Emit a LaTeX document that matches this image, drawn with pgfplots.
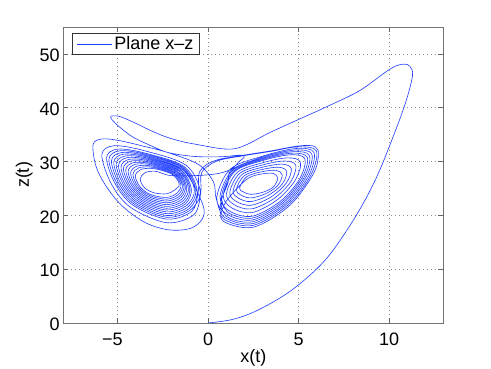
\documentclass[border=0pt]{standalone}
\usepackage{fontspec}
\setmainfont{Liberation Sans}
\usepackage{pgfplots}
\pgfplotsset{compat=1.18}
\newcommand\myfont{\fontsize{18bp}{21bp}\selectfont}
\definecolor{mblue}{RGB}{30,60,255}
\begin{document}
\begin{tikzpicture}
\useasboundingbox (-63.3bp,-46bp) rectangle (427.7bp,323bp);
\begin{axis}[
  scale only axis, width=380bp, height=296bp,
  xmin=-8, xmax=13, ymin=0, ymax=55,
  xtick={-5,0,5,10}, xticklabels={\llap{−}5,0,5,10},
  ytick={0,10,20,30,40,50},
  /pgf/number format/assume math mode=true,
  tick align=inside, tick pos=both, major tick length=5bp,
  tick style={black!60, line width=0.6bp},
  axis line style={black!55, line width=0.8bp},
  grid=major,
  major grid style={black!45, line width=0.5bp, dash pattern=on 1bp off 3bp},
  tick label style={font=\myfont},
  label style={font=\myfont},
  xticklabel style={anchor=base, yshift=-22bp},
  yticklabel style={anchor=east, inner xsep=0bp, xshift=-3.5bp, yshift=-1.5bp},
  xlabel={x(t)}, ylabel={z(t)},
  xlabel style={at={(axis description cs:0.5,-0.1318)}, anchor=base},
  ylabel style={at={(axis description cs:-0.0908,0.5)}, anchor=base},
  legend style={at={(0,1)}, anchor=north west, xshift=9.2bp, yshift=-6.3bp,
    draw=black!80, line width=0.6bp, font=\myfont, inner xsep=4bp, inner ysep=1.3bp},
  legend cell align=left,
  legend image code/.code={\draw[#1] (0bp,0bp) -- (35bp,0bp);},
]
\addplot[mblue, line width=0.6bp, smooth, tension=0.55] coordinates {
(0,0) (1.4,0.7) (2.82,2.5) (4.66,6.2) (6.5,11.8) (8.1,19.5) (9.26,26.7) (10.18,34.2)
(10.92,41) (11.3,46) (11.15,47.7) (10.85,48.1) (10.4,47.8) (9.8,46.6) (8.34,43.1) (6.5,40.1)
(4.66,37.3) (3.3,35.2) (2.3,33.4) (1.5,32.4) (0.7,32.4) (-0.5,33.1) (-1.42,33.7) (-2.34,34.6)
(-3.26,35.9) (-4.18,37.4) (-4.92,38.4) (-5.37,38.4) (-5.29,37.7) (-4.92,36.5) (-4.18,34.6)
(-3.26,33.1) (-2.34,31.8) (-1.42,31.2) (-0.5,30.9) (0.79,30.9) (1.8,31.2) (2.0,30.8)
(1.71,30.0) (1.34,28.7) (0.6,27.8) (-0.6,27.4)
(-2.1,27.4) (-2.9,28.2) (-3.5,27.9) (-3.75,26.7) (-3.5,25.1) (-3.0,24.2) (-2.3,24.0) (-1.85,24.7)
(-1.59,25.8) (-1.99,27.64) (-2.97,28.67) (-3.71,28.53) (-4.02,27.27) (-3.73,25.19) (-3.16,23.86) (-2.3,23.33) (-1.72,24.13)
(-1.5,25.7) (-1.94,27.76) (-3.0,28.9) (-3.82,28.85) (-4.15,27.56) (-3.85,25.24) (-3.24,23.69) (-2.3,23.0) (-1.65,23.85)
(-1.42,25.6) (-1.88,27.88) (-3.04,29.14) (-3.92,29.16) (-4.28,27.84) (-3.96,25.28) (-3.32,23.52) (-2.3,22.66) (-1.58,23.56)
(-1.34,25.5) (-1.83,28.0) (-3.08,29.38) (-4.03,29.48) (-4.42,28.13) (-4.08,25.33) (-3.4,23.35) (-2.3,22.33) (-1.52,23.28)
(-1.26,25.4) (-1.77,28.12) (-3.11,29.61) (-4.13,29.79) (-4.55,28.41) (-4.19,25.37) (-3.48,23.18) (-2.3,21.99) (-1.45,22.99)
(-1.18,25.3) (-1.72,28.24) (-3.15,29.85) (-4.24,30.1) (-4.68,28.7) (-4.31,25.42) (-3.56,23.01) (-2.3,21.66) (-1.38,22.71)
(-1.09,25.2) (-1.66,28.36) (-3.18,30.08) (-4.34,30.42) (-4.81,28.98) (-4.42,25.46) (-3.64,22.84) (-2.3,21.32) (-1.31,22.42)
(-1.01,25.1) (-1.61,28.48) (-3.22,30.32) (-4.45,30.74) (-4.95,29.27) (-4.54,25.51) (-3.72,22.67) (-2.3,20.99) (-1.25,22.14)
(-0.93,25.0) (-1.55,28.6) (-3.25,30.55) (-4.55,31.05) (-5.08,29.55) (-4.65,25.55) (-3.8,22.5) (-2.3,20.65) (-1.18,21.85)
(-0.76,24.8) (-1.44,28.84) (-3.32,31.02) (-4.76,31.68) (-5.34,30.12) (-4.88,25.64) (-3.96,22.16) (-2.3,19.98) (-1.04,21.28)
(-0.6,24.6) (-1.33,29.08) (-3.39,31.49) (-4.97,32.31) (-5.61,30.69) (-5.11,25.73) (-4.12,21.82) (-2.3,19.31) (-0.91,20.71)
(-0.55,24.2) (-0.45,28.2) (0.4,30.2) (2.0,31.2) (3.5,32.0) (5.0,32.9) (5.9,32.8) (6.1,31.2) (5.8,27.6)
(4.5,21.8) (2.5,17.8) (0.8,19.0) (0.9,22.0) (1.6,25.0)
(2.27,27.0) (3.0,27.71) (3.61,27.78) (3.85,26.9) (3.6,25.26) (2.97,24.23) (2.32,23.92) (1.93,24.4)
(1.74,25.08) (2.14,27.2) (3.0,28.12) (3.76,28.36) (4.1,27.5) (3.84,25.52) (3.14,23.96) (2.34,23.24) (1.8,23.8)
(1.56,24.82) (2.01,27.4) (3.0,28.53) (3.92,28.94) (4.35,28.1) (4.09,25.78) (3.31,23.69) (2.36,22.56) (1.68,23.2)
(1.38,24.56) (1.88,27.6) (3.0,28.94) (4.07,29.52) (4.6,28.7) (4.33,26.04) (3.48,23.42) (2.38,21.88) (1.55,22.6)
(1.2,24.3) (1.75,27.8) (3.0,29.35) (4.23,30.1) (4.85,29.3) (4.58,26.3) (3.65,23.15) (2.4,21.2) (1.43,22.0)
(1.02,24.04) (1.62,28.0) (3.0,29.76) (4.38,30.68) (5.1,29.9) (4.82,26.56) (3.82,22.88) (2.42,20.52) (1.3,21.4)
(0.84,23.78) (1.49,28.2) (3.0,30.17) (4.54,31.26) (5.35,30.5) (5.07,26.82) (3.99,22.61) (2.44,19.84) (1.18,20.8)
(0.66,23.52) (1.36,28.4) (3.0,30.58) (4.69,31.84) (5.6,31.1) (5.31,27.08) (4.16,22.34) (2.46,19.16) (1.05,20.2)
(0.48,23.26) (1.23,28.6) (3.0,30.99) (4.85,32.42) (5.85,31.7) (5.56,27.34) (4.33,22.07) (2.48,18.48) (0.93,19.6)
(0.45,23.1) (0.3,26.2) (-0.5,29.4) (-2.15,31.6) (-3.63,32.9) (-4.92,33.9) (-5.84,34.2) (-6.35,33.2)
(-6.2,29.2) (-5.65,25.5) (-4.73,21.7) (-3.44,18.6) (-2.15,17.3) (-1.05,17.5) (-0.41,18.9) (-0.22,21.1) (-0.7,25.0)
(-1.5,28.72) (-3.29,30.79) (-4.66,31.37) (-5.21,29.84) (-4.77,25.6) (-3.88,22.33) (-2.3,20.32) (-1.11,21.57)
(-0.68,24.7) (-1.39,28.96) (-3.36,31.26) (-4.87,32.0) (-5.48,30.41) (-5.0,25.69) (-4.04,21.99) (-2.3,19.65) (-0.98,21.0)
(-0.43,24.4) (-1.22,29.32) (-3.46,31.96) (-5.18,32.94) (-5.87,31.26) (-5.34,25.82) (-4.28,21.48) (-2.3,18.64) (-0.78,20.14)
(-0.4,24.3) (-0.35,28.0) (0.5,30.1) (2.0,31.1) (3.5,31.9) (4.92,32.71) (5.98,32.0) (5.68,27.47) (4.42,21.94)
(2.49,18.14) (0.86,19.3) (0.7,22.3) (1.1,26.0)
(1.3,28.5) (3.0,30.79) (4.77,32.13) (5.73,31.4) (5.43,27.21) (4.25,22.2) (2.47,18.82) (0.99,19.9)
(0.75,23.65) (1.43,28.3) (3.0,30.38) (4.61,31.55) (5.48,30.8) (5.19,26.95) (4.08,22.48) (2.45,19.5) (1.11,20.5) (0.75,23.0)
};
\addlegendentry{Plane x–z}
\end{axis}
\end{tikzpicture}
\end{document}
